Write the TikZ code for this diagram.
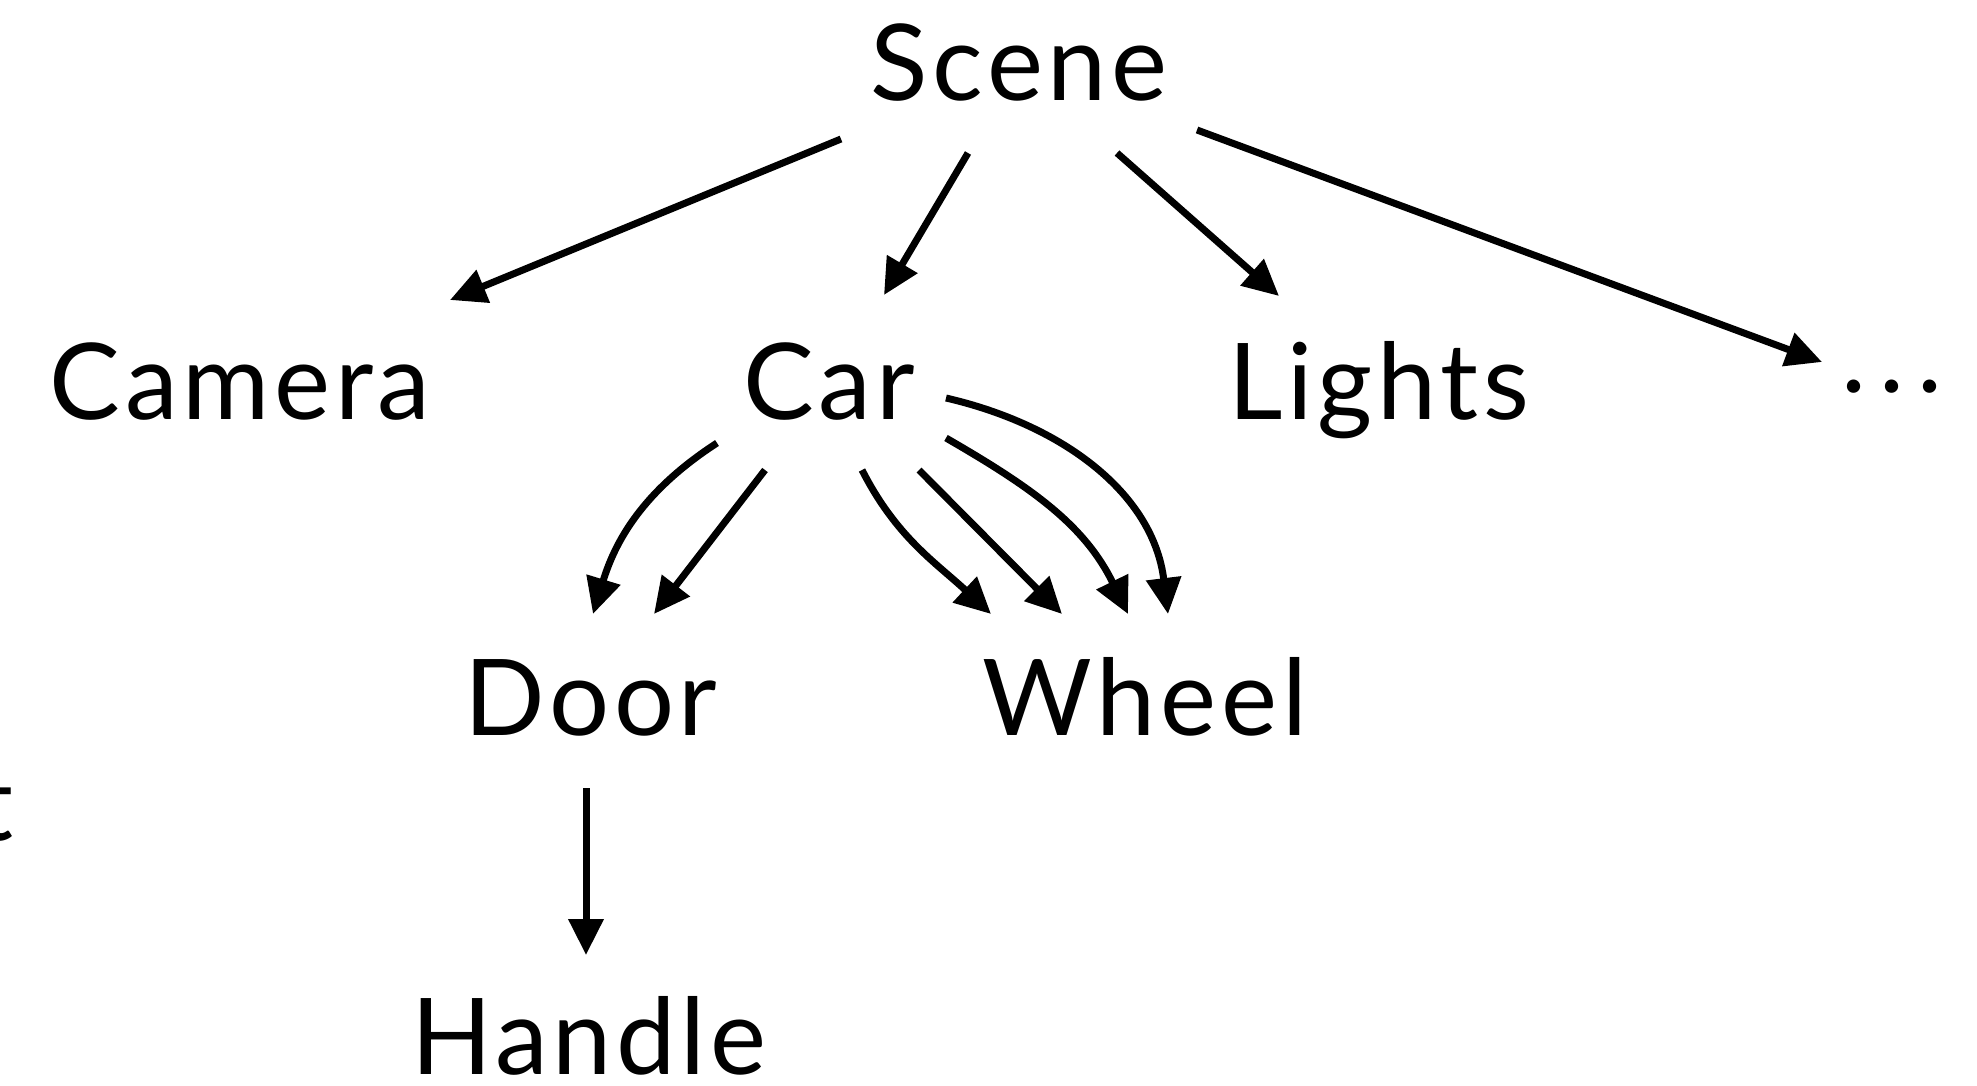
\documentclass[tikz,border=0pt]{standalone}
\usepackage{fontspec}
\setmainfont{Lato}[LetterSpace=4.5]
\usetikzlibrary{arrows.meta}
\begin{document}
\begin{tikzpicture}[x=1pt,y=1pt,
  lbl/.style={anchor=base, inner sep=0pt, font=\fontsize{106}{120}\selectfont},
  link/.style={line width=7pt, -{Triangle[length=36pt,width=34pt]}}]
\useasboundingbox (0,0) rectangle (1977,-1086);

% labels, placed on their baselines
\node[lbl] (scene)  at (1019,-101) {Scene};
\node[lbl] (camera) at (240,-419)  {Camera};
\node[lbl] (car)    at (829,-419)  {Car};
\node[lbl] (lights) at (1379,-419) {Lights};
\node[lbl] (more)   at (1892,-419) {\raisebox{27pt}{.\kern13pt.\kern13pt.}};
\node[lbl] (door)   at (591,-735)  {Door};
\node[lbl] (wheel)  at (1145,-735) {Wheel};
\node[lbl] (handle) at (589,-1074) {Handle};
\node[lbl, anchor=base east] (cut) at (14,-840) {t};

% scene children
\draw[link] ([shift={(-178,-38)}]scene.base) -- ([shift={(210,119)}]camera.base);
\draw[link] ([shift={(-51,-52)}]scene.base)  -- ([shift={(55,124)}]car.base);
\draw[link] ([shift={(98,-52)}]scene.base)   -- ([shift={(-100,123)}]lights.base);
\draw[link] ([shift={(178,-29)}]scene.base)  -- ([shift={(-70,57)}]more.base);

% car parts
\draw[link] ([shift={(-112,-24)}]car.base) to[out=213,in=73] ([shift={(2,121)}]door.base);
\draw[link] ([shift={(-64,-51)}]car.base) -- ([shift={(63,121)}]door.base);
\draw[link] ([shift={(33,-51)}]car.base) to[out=-63,in=137] ([shift={(-154,121)}]wheel.base);
\draw[link] ([shift={(90,-51)}]car.base) -- ([shift={(-83,121)}]wheel.base);
\draw[link] ([shift={(117,-19)}]car.base) to[out=-30,in=116] ([shift={(-17,121)}]wheel.base);
\draw[link] ([shift={(117,21)}]car.base) to[out=-13,in=97] ([shift={(23,121)}]wheel.base);

% door part
\draw[link] ([shift={(-5,-53)}]door.base) -- ([shift={(-3,119)}]handle.base);
\end{tikzpicture}
\end{document}
